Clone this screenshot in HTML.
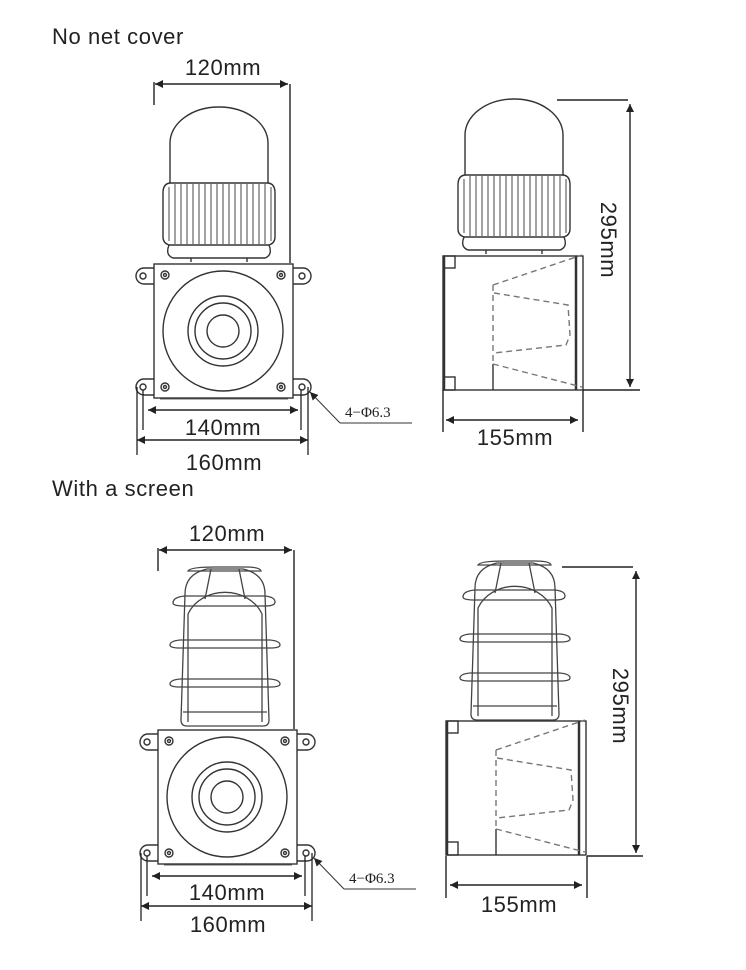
<!DOCTYPE html>
<html><head><meta charset="utf-8"><style>
html,body{margin:0;padding:0;background:#fff;}
svg{display:block;}
text{font-family:"Liberation Sans","DejaVu Sans",sans-serif;fill:#222;letter-spacing:0.6px;}
.s{font-family:"Liberation Serif",serif;letter-spacing:0;}
</style></head><body>
<svg width="746" height="970" viewBox="0 0 746 970" xmlns="http://www.w3.org/2000/svg">
<defs>
<marker id="ar" viewBox="0 0 10 10" refX="10" refY="5" markerWidth="16" markerHeight="8" orient="auto-start-reverse" markerUnits="userSpaceOnUse"><path d="M0,0 L10,5 L0,10 z" fill="#222"/></marker>

<g id="fbase" fill="none" stroke="#333" stroke-width="1.4">
  <rect x="154" y="264" width="139" height="134"/>
  <path d="M154,268 h-10 a8,8 0 0 0 0,16 h10 M293,268 h10 a8,8 0 0 1 0,16 h-10"/>
  <path d="M154,379 h-10 a8,8 0 0 0 0,16 h10 M293,379 h10 a8,8 0 0 1 0,16 h-10"/>
  <circle cx="143" cy="276" r="3"/><circle cx="302" cy="276" r="3"/>
  <circle cx="143" cy="387" r="3"/><circle cx="302" cy="387" r="3"/>
  <circle cx="165" cy="275" r="4"/><circle cx="281" cy="275" r="4"/>
  <circle cx="165" cy="387" r="4"/><circle cx="281" cy="387" r="4"/>
  <circle cx="165" cy="275" r="1.5"/><circle cx="281" cy="275" r="1.5"/>
  <circle cx="165" cy="387" r="1.5"/><circle cx="281" cy="387" r="1.5"/>
  <circle cx="223" cy="331" r="60"/>
  <circle cx="223" cy="331" r="35"/>
  <circle cx="223" cy="331" r="28"/>
  <circle cx="223" cy="331" r="16"/>
  <line x1="160" y1="399" x2="288" y2="399" stroke-width="0.8"/>
</g>

<g id="sbase" fill="none" stroke="#333" stroke-width="1.4">
  <rect x="443" y="256" width="140" height="134"/>
  <line x1="444" y1="256" x2="444" y2="390" stroke-width="2.5"/>
  <line x1="576" y1="256" x2="576" y2="390" stroke-width="2.5"/>
  <rect x="444" y="256" width="11" height="12"/>
  <rect x="444" y="377" width="11" height="13"/>
  <line x1="493" y1="364" x2="493" y2="390"/>
  <path d="M493,285 L582,255 M494,293 L568,305 L570,335 L566,345 L494,353 M493,364 L582,387 M493,285 L493,364" stroke-dasharray="6,4" stroke="#777"/>
</g>

<g id="dome" fill="none" stroke="#333" stroke-width="1.4">
  <path d="M-49,-72 L-49,-112 A49,36 0 0 1 49,-112 L49,-72"/>
  <path d="M-56,-62 Q-56,-72 -48,-72 L48,-72 Q56,-72 56,-62 L56,-18 Q56,-12 50,-10 L-50,-10 Q-56,-12 -56,-18 Z"/>
  <path d="M-50,-10 Q-54,0 -46,3 L46,3 Q54,0 50,-10"/>
  <path d="M-28,3 v4 M28,3 v4"/>
  <g stroke-width="0.9">
    <path d="M-44,-71 v60 M-38,-71 v60 M-32,-71 v60 M-26,-71 v60 M-20,-71 v60 M-14,-71 v60 M-8,-71 v60 M-2,-71 v60 M4,-71 v60 M10,-71 v60 M16,-71 v60 M22,-71 v60 M28,-71 v60 M34,-71 v60 M40,-71 v60 M46,-71 v60 M-50,-68 v54 M52,-68 v54"/>
  </g>
</g>

<g id="cage" fill="none" stroke="#444" stroke-width="1.3">
  <path d="M-37,-2 L-37,-110 A40,35 0 0 1 37,-110 L37,-2"/>
  <path d="M-40,-130 Q-40,-150 -18,-155 L18,-155 Q40,-150 40,-130 L44,-4 Q44,2 38,2 L-38,2 Q-44,2 -44,-4 Z"/>
  <path d="M-37,-153 Q-35,-157 -10,-157 L20,-157 Q35,-157 36,-153 L-37,-153 Z"/>
  <path d="M-52,-121 Q-52,-127 -40,-128 L40,-128 Q50,-127 50,-122 Q50,-118 40,-118 L-40,-118 Q-52,-118 -52,-121 Z"/>
  <path d="M-55,-79 Q-55,-83 -45,-84 L45,-84 Q55,-83 55,-79 Q55,-76 45,-76 L-45,-76 Q-55,-76 -55,-79 Z"/>
  <path d="M-55,-40 Q-55,-44 -45,-45 L45,-45 Q55,-44 55,-40 Q55,-37 45,-37 L-45,-37 Q-55,-37 -55,-40 Z"/>
  <path d="M-14,-155 L-20,-125 M14,-155 L20,-125"/>
  <path d="M-42,-12 L42,-12"/>
</g>
</defs>

<text x="52" y="44" font-size="22">No net cover</text>
<text x="223" y="75" font-size="22" text-anchor="middle">120mm</text>
<line x1="155" y1="84" x2="288" y2="84" stroke="#222" stroke-width="1.4" marker-start="url(#ar)" marker-end="url(#ar)"/>
<line x1="154" y1="82" x2="154" y2="105" stroke="#222" stroke-width="1.4"/>
<line x1="290" y1="84" x2="290" y2="263" stroke="#222" stroke-width="1.4"/>
<use href="#dome" x="219" y="255"/>
<use href="#fbase"/>
<line x1="148" y1="410" x2="298" y2="410" stroke="#222" stroke-width="1.4" marker-start="url(#ar)" marker-end="url(#ar)"/>
<text x="223" y="435" font-size="22" text-anchor="middle">140mm</text>
<line x1="137" y1="440" x2="308" y2="440" stroke="#222" stroke-width="1.4" marker-start="url(#ar)" marker-end="url(#ar)"/>
<text x="224" y="470" font-size="22" text-anchor="middle">160mm</text>
<g stroke="#222" stroke-width="1.3">
<line x1="137" y1="387" x2="137" y2="455"/><line x1="308" y1="387" x2="308" y2="455"/>
<line x1="143" y1="390" x2="143" y2="430"/><line x1="301" y1="390" x2="301" y2="430"/>
</g>
<line x1="340" y1="423" x2="310" y2="392" stroke="#333" stroke-width="1" marker-end="url(#ar)"/>
<line x1="340" y1="423" x2="412" y2="423" stroke="#333" stroke-width="1"/>
<text x="345" y="417" font-size="15" class="s">4−Φ6.3</text>

<use href="#dome" x="514" y="247"/>
<use href="#sbase"/>
<g stroke="#222" stroke-width="1.4">
<line x1="557" y1="100" x2="628" y2="100"/>
<line x1="583" y1="390" x2="640" y2="390"/>
<line x1="630" y1="104" x2="630" y2="387" marker-start="url(#ar)" marker-end="url(#ar)"/>
<line x1="443" y1="390" x2="443" y2="432"/><line x1="583" y1="390" x2="583" y2="432"/>
<line x1="446" y1="420" x2="578" y2="420" marker-start="url(#ar)" marker-end="url(#ar)"/>
</g>
<text x="515" y="445" font-size="22" text-anchor="middle">155mm</text>
<text transform="translate(601,240) rotate(90)" font-size="22" text-anchor="middle">295mm</text>

<text x="52" y="496" font-size="22">With a screen</text>
<text x="227" y="541" font-size="22" text-anchor="middle">120mm</text>
<line x1="159" y1="550" x2="292" y2="550" stroke="#222" stroke-width="1.4" marker-start="url(#ar)" marker-end="url(#ar)"/>
<line x1="158" y1="548" x2="158" y2="571" stroke="#222" stroke-width="1.4"/>
<line x1="294" y1="550" x2="294" y2="729" stroke="#222" stroke-width="1.4"/>
<use href="#cage" x="225" y="724"/>
<g transform="translate(4,466)">
<use href="#fbase"/>
<line x1="148" y1="410" x2="298" y2="410" stroke="#222" stroke-width="1.4" marker-start="url(#ar)" marker-end="url(#ar)"/>
<text x="223" y="434" font-size="22" text-anchor="middle">140mm</text>
<line x1="137" y1="440" x2="308" y2="440" stroke="#222" stroke-width="1.4" marker-start="url(#ar)" marker-end="url(#ar)"/>
<text x="224" y="466" font-size="22" text-anchor="middle">160mm</text>
<g stroke="#222" stroke-width="1.3">
<line x1="137" y1="387" x2="137" y2="455"/><line x1="308" y1="387" x2="308" y2="455"/>
<line x1="143" y1="390" x2="143" y2="430"/><line x1="301" y1="390" x2="301" y2="430"/>
</g>
<line x1="340" y1="423" x2="310" y2="392" stroke="#333" stroke-width="1" marker-end="url(#ar)"/>
<line x1="340" y1="423" x2="412" y2="423" stroke="#333" stroke-width="1"/>
<text x="345" y="417" font-size="15" class="s">4−Φ6.3</text>
</g>

<use href="#cage" x="515" y="718"/>
<g transform="translate(3,465)">
<use href="#sbase"/>
</g>
<g stroke="#222" stroke-width="1.4">
<line x1="562" y1="567" x2="633" y2="567"/>
<line x1="587" y1="856" x2="643" y2="856"/>
<line x1="636" y1="571" x2="636" y2="853" marker-start="url(#ar)" marker-end="url(#ar)"/>
<line x1="446" y1="856" x2="446" y2="898"/><line x1="587" y1="856" x2="587" y2="898"/>
<line x1="450" y1="885" x2="582" y2="885" marker-start="url(#ar)" marker-end="url(#ar)"/>
</g>
<text x="519" y="912" font-size="22" text-anchor="middle">155mm</text>
<text transform="translate(613,706) rotate(90)" font-size="22" text-anchor="middle">295mm</text>
</svg>
</body></html>
